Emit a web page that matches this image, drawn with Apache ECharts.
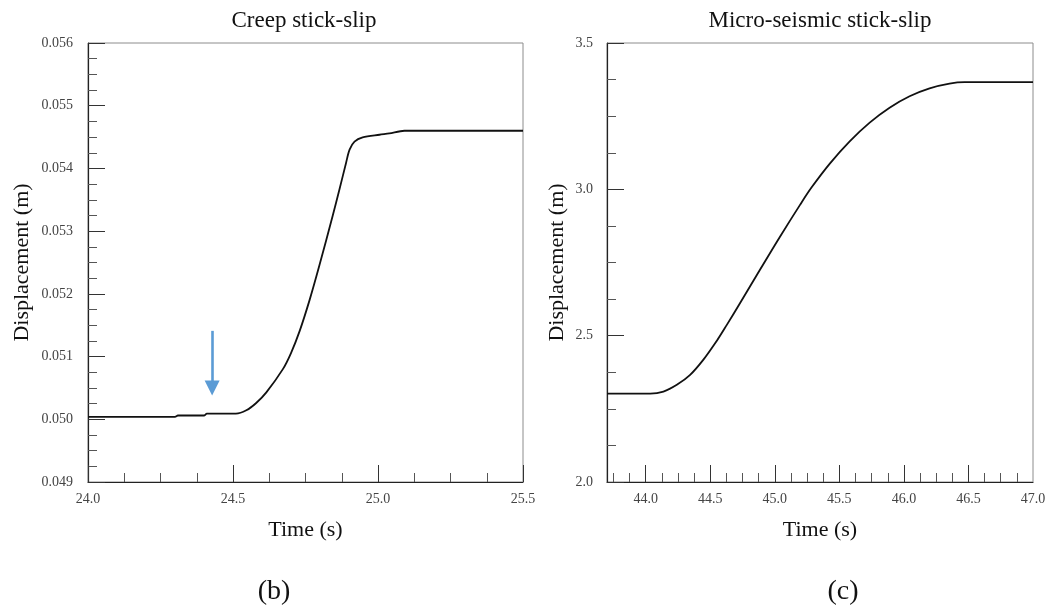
<!DOCTYPE html>
<html>
<head>
<meta charset="utf-8">
<script src="https://cdn.jsdelivr.net/npm/echarts@6/dist/echarts.min.js"></script>
<style>html,body{margin:0;padding:0;background:#fff}#c{width:1063px;height:610px}</style>
</head>
<body>
<div id="c"></div>
<script>
// ---- data ----
const creepTime = [24.0, 24.30, 24.31, 24.40, 24.41, 24.51, 24.546, 24.58, 24.615, 24.672, 24.70, 24.73, 24.764, 24.798, 24.844, 24.867, 24.89, 24.902, 24.919, 24.947, 25.005, 25.039, 25.091, 25.5];
const creepDisp = [0.05004, 0.05004, 0.05006, 0.05006, 0.05009, 0.05009, 0.050143, 0.05026, 0.05043, 0.05080, 0.051056, 0.05141, 0.0519, 0.052455, 0.05325, 0.053663, 0.054092, 0.054299, 0.054426, 0.054494, 0.054537, 0.054558, 0.054601, 0.054601];

const seisTime = [43.7, 44.035, 44.137, 44.241, 44.344, 44.447, 44.55, 44.627, 44.73, 44.885, 45.04, 45.194, 45.284, 45.426, 45.58, 45.735, 45.889, 46.044, 46.199, 46.353, 46.469, 47.0];
const seisDisp = [2.302, 2.302, 2.309, 2.332, 2.366, 2.418, 2.482, 2.536, 2.611, 2.725, 2.838, 2.946, 3.006, 3.088, 3.164, 3.228, 3.279, 3.318, 3.345, 3.361, 3.366, 3.366];

// arrow annotation (time, top value, head value)
const arrowTime = 24.428;
const arrowTop = 0.05141;
const arrowHead = 0.0505;

// tick labels
const seisXLabels = [44.0, 44.5, 45.0, 45.5, 46.0, 46.5, 47.0];
const seisXMajorTicks = [44.0, 44.5, 45.0, 45.5, 46.0, 46.5];
const seisXMinorTicks = [43.75, 43.875, 44.125, 44.25, 44.375, 44.625, 44.75, 44.875, 45.125, 45.25, 45.375, 45.625, 45.75, 45.875, 46.125, 46.25, 46.375, 46.625, 46.75, 46.875];

const FONT = "'Liberation Serif', 'Times New Roman', serif";

const chart = echarts.init(document.getElementById('c'));

function axisBase(extra) {
  return Object.assign({
    type: 'value',
    axisLine: { show: true, onZero: false, lineStyle: { color: '#222', width: 1.2 } },
    axisTick: { show: true, inside: true, length: 17, lineStyle: { color: '#333', width: 1 } },
    minorTick: { show: false },
    splitLine: { show: false },
    minorSplitLine: { show: false },
    axisLabel: { fontFamily: FONT, fontSize: 14, color: '#444' },
    nameTextStyle: { fontFamily: FONT, fontSize: 22, color: '#111' },
    nameLocation: 'middle'
  }, extra);
}

const option = {
  animation: false,
  backgroundColor: '#fff',
  grid: [
    { left: 88, top: 43, width: 435, height: 439, show: true, borderColor: '#8c8c8c', borderWidth: 1, backgroundColor: 'transparent' },
    { left: 607, top: 43, width: 426, height: 439, show: true, borderColor: '#8c8c8c', borderWidth: 1, backgroundColor: 'transparent' }
  ],
  graphic: [
    { type: 'text', x: 304, y: 21, style: { text: 'Creep stick-slip', font: "23px 'Liberation Serif'", fill: '#111', align: 'center', verticalAlign: 'middle' } },
    { type: 'text', x: 820, y: 21, style: { text: 'Micro-seismic stick-slip', font: "23px 'Liberation Serif'", fill: '#111', align: 'center', verticalAlign: 'middle' } },
    { type: 'text', x: 274, y: 592, style: { text: '(b)', font: "28px 'Liberation Serif'", fill: '#111', align: 'center', verticalAlign: 'middle' } },
    { type: 'text', x: 843, y: 592, style: { text: '(c)', font: "28px 'Liberation Serif'", fill: '#111', align: 'center', verticalAlign: 'middle' } }
  ],
  xAxis: [
    axisBase({
      gridIndex: 0, min: 24.0, max: 25.5, interval: 0.5, position: 'bottom',
      minorTick: { show: true, splitNumber: 4, length: 9, lineStyle: { color: '#555' } },
      axisLabel: { fontFamily: FONT, fontSize: 14, color: '#444', margin: 10, formatter: v => v.toFixed(1) },
      name: 'Time (s)', nameGap: 37
    }),
    axisBase({
      gridIndex: 1, min: 43.7, max: 47.0, position: 'bottom',
      axisTick: { show: true, inside: true, length: 17, customValues: seisXMajorTicks, lineStyle: { color: '#333', width: 1 } },
      axisLabel: { fontFamily: FONT, fontSize: 14, color: '#444', margin: 10, customValues: seisXLabels, formatter: v => v.toFixed(1) },
      name: 'Time (s)', nameGap: 37
    }),
    axisBase({
      gridIndex: 1, min: 43.7, max: 47.0, position: 'bottom',
      axisLine: { show: false },
      axisTick: { show: true, inside: true, length: 9, customValues: seisXMinorTicks, lineStyle: { color: '#555', width: 1 } },
      axisLabel: { show: false }
    })
  ],
  yAxis: [
    axisBase({
      gridIndex: 0, min: 0.049, max: 0.056, interval: 0.001, position: 'left',
      minorTick: { show: true, splitNumber: 4, length: 9, lineStyle: { color: '#555' } },
      axisLabel: { fontFamily: FONT, fontSize: 14, color: '#444', margin: 15, formatter: v => v.toFixed(3) },
      name: 'Displacement (m)', nameGap: 55, nameRotate: 90
    }),
    axisBase({
      gridIndex: 1, min: 2.0, max: 3.5, interval: 0.5, position: 'left',
      minorTick: { show: true, splitNumber: 4, length: 9, lineStyle: { color: '#555' } },
      axisLabel: { fontFamily: FONT, fontSize: 14, color: '#444', margin: 14, formatter: v => v.toFixed(1) },
      name: 'Displacement (m)', nameGap: 39, nameRotate: 90
    })
  ],
  series: [
    {
      type: 'line', xAxisIndex: 0, yAxisIndex: 0,
      data: creepTime.map((t, i) => [t, creepDisp[i]]),
      showSymbol: false, symbol: 'none', smooth: 0.3,
      lineStyle: { color: '#111', width: 1.8 },
      emphasis: { disabled: true },
      markLine: {
        silent: true, animation: false,
        symbol: ['none', 'triangle'], symbolSize: [15, 15],
        label: { show: false },
        lineStyle: { color: '#5b9bd5', width: 2.6, type: 'solid' },
        data: [[{ coord: [arrowTime, arrowTop] }, { coord: [arrowTime, arrowHead] }]]
      }
    },
    {
      type: 'line', xAxisIndex: 1, yAxisIndex: 1,
      data: seisTime.map((t, i) => [t, seisDisp[i]]),
      showSymbol: false, symbol: 'none', smooth: 0.35,
      lineStyle: { color: '#111', width: 1.8 },
      emphasis: { disabled: true }
    }
  ]
};
chart.setOption(option);
</script>
</body>
</html>
